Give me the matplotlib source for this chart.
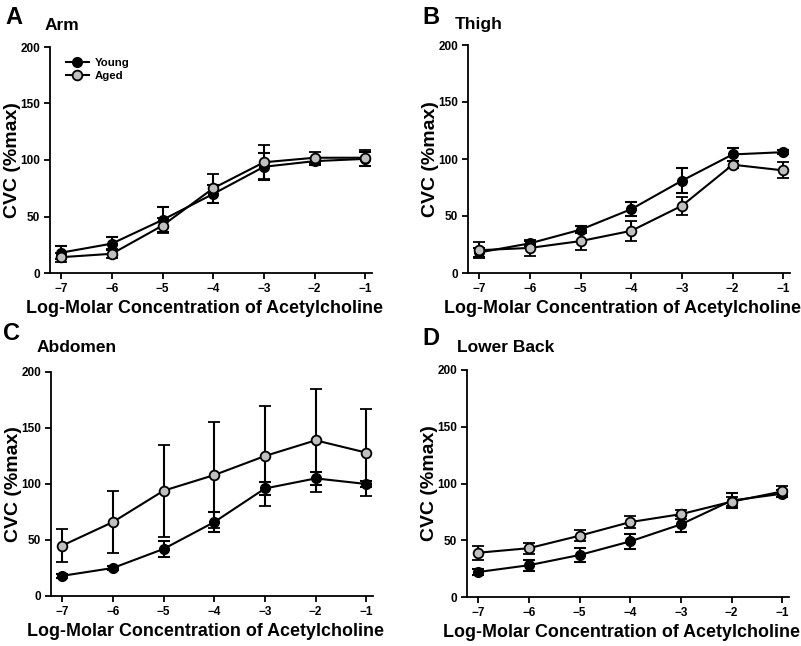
import matplotlib
matplotlib.use("Agg")
import matplotlib.pyplot as plt
from matplotlib.lines import Line2D
import numpy as np

plt.rcParams['font.family'] = ['Liberation Sans', 'DejaVu Sans']
plt.rcParams['font.weight'] = 'bold'

conc = [-7, -6, -5, -4, -3, -2, -1]

# Panel A - Arm
arm_young = [18, 26, 47, 70, 94, 99, 101]
arm_young_err = [6, 6, 11, 8, 12, 3, 6]
arm_aged = [14, 17, 42, 75, 98, 102, 102]
arm_aged_err = [4, 4, 7, 13, 15, 5, 7]

# Panel B - Thigh
thigh_young = [18, 26, 38, 56, 81, 104, 106]
thigh_young_err = [4, 2, 3, 6, 11, 6, 2]
thigh_aged = [20, 22, 28, 37, 59, 95, 90]
thigh_aged_err = [7, 7, 8, 8.5, 8, 3, 7]

# Panel C - Abdomen
abd_young = [18, 25, 42, 66, 96, 105, 100]
abd_young_err = [2, 2, 7, 9, 6, 6, 3]
abd_aged = [45, 66, 94, 108, 125, 139, 128]
abd_aged_err = [15, 28, 41, 47, 45, 46, 39]

# Panel D - Lower Back
back_young = [22, 28, 37, 49, 64, 85, 91]
back_young_err = [3, 5, 6, 6.5, 7, 7, 3]
back_aged = [39, 43, 54, 66, 73, 84, 93]
back_aged_err = [6, 5, 5, 5, 4, 4, 5]

panels = [
    ('A', 'Arm', arm_young, arm_young_err, arm_aged, arm_aged_err),
    ('B', 'Thigh', thigh_young, thigh_young_err, thigh_aged, thigh_aged_err),
    ('C', 'Abdomen', abd_young, abd_young_err, abd_aged, abd_aged_err),
    ('D', 'Lower Back', back_young, back_young_err, back_aged, back_aged_err),
]

W, H = 801, 646
fig = plt.figure(figsize=(W / 100, H / 100), dpi=100)

# layout in pixels: axes left, top (y=200), bottom (y=0)
boxes = [(50, 47, 273), (468, 45, 273), (51, 372, 596), (467, 370, 597)]
# letter (x, y centre) and title (x, y centre)
letters_pos = [(5, 17), (422, 17), (3, 334), (422, 338)]
titles_pos = [(45, 26), (455, 25), (37, 347), (457, 348)]
xlim = (-7.22, -0.86)
pxunit = 50.7

for i, ((letter, title, yv, ye, av, ae), (l, t, b)) in enumerate(zip(panels, boxes)):
    w = (xlim[1] - xlim[0]) * pxunit
    h = b - t
    ax = fig.add_axes([l / W, (H - b) / H, w / W, h / H])
    ax.errorbar(conc, yv, yerr=ye, color='black', marker='o', markersize=7,
                markerfacecolor='black', markeredgecolor='black', lw=1.5,
                capsize=4, capthick=1.5, elinewidth=1.5, zorder=3)
    ax.errorbar(conc, av, yerr=ae, color='black', marker='o', markersize=7,
                markerfacecolor='#c0c0c0', markeredgecolor='black', mew=1.3, lw=1.5,
                capsize=4, capthick=1.5, elinewidth=1.5, zorder=4)
    ax.set_xlim(xlim)
    ax.set_ylim(0, 200)
    ax.set_xticks(conc)
    ax.set_yticks([0, 50, 100, 150, 200])
    ax.spines['top'].set_visible(False)
    ax.spines['right'].set_visible(False)
    ax.spines['left'].set_linewidth(1.3)
    ax.spines['bottom'].set_linewidth(1.3)
    ax.tick_params(direction='out', length=4, width=1.3, labelsize=8.5, pad=3)
    for lab in ax.get_xticklabels() + ax.get_yticklabels():
        lab.set_fontweight('bold')
    ax.set_ylabel('CVC (%max)', fontsize=14, fontweight='bold')
    ax.yaxis.set_label_coords(-29 / w, 0.5)
    ax.set_xlabel('Log-Molar Concentration of Acetylcholine', fontsize=12.9,
                  fontweight='bold')
    ax.xaxis.set_label_coords(0.478, -27 / h)
    lx, ly = letters_pos[i]
    fig.text(lx / W, 1 - ly / H, letter, fontsize=17, fontweight='bold',
             ha='left', va='center')
    tx, ty = titles_pos[i]
    fig.text(tx / W, 1 - ty / H, title, fontsize=12.5, fontweight='bold',
             ha='left', va='center')
    if letter == 'A':
        handles = [Line2D([], [], color='black', marker='o', markersize=7, lw=1.5,
                          markerfacecolor='black'),
                   Line2D([], [], color='black', marker='o', markersize=7, lw=1.5,
                          markerfacecolor='#c0c0c0', mew=1.3)]
        ax.legend(handles, ['Young', 'Aged'], loc='upper left', frameon=False,
                  fontsize=8.2, handlelength=2.0, handletextpad=0.5,
                  labelspacing=0.25, borderaxespad=0.0,
                  bbox_to_anchor=(0.035, 0.97))

fig.savefig('out.png', dpi=100)
